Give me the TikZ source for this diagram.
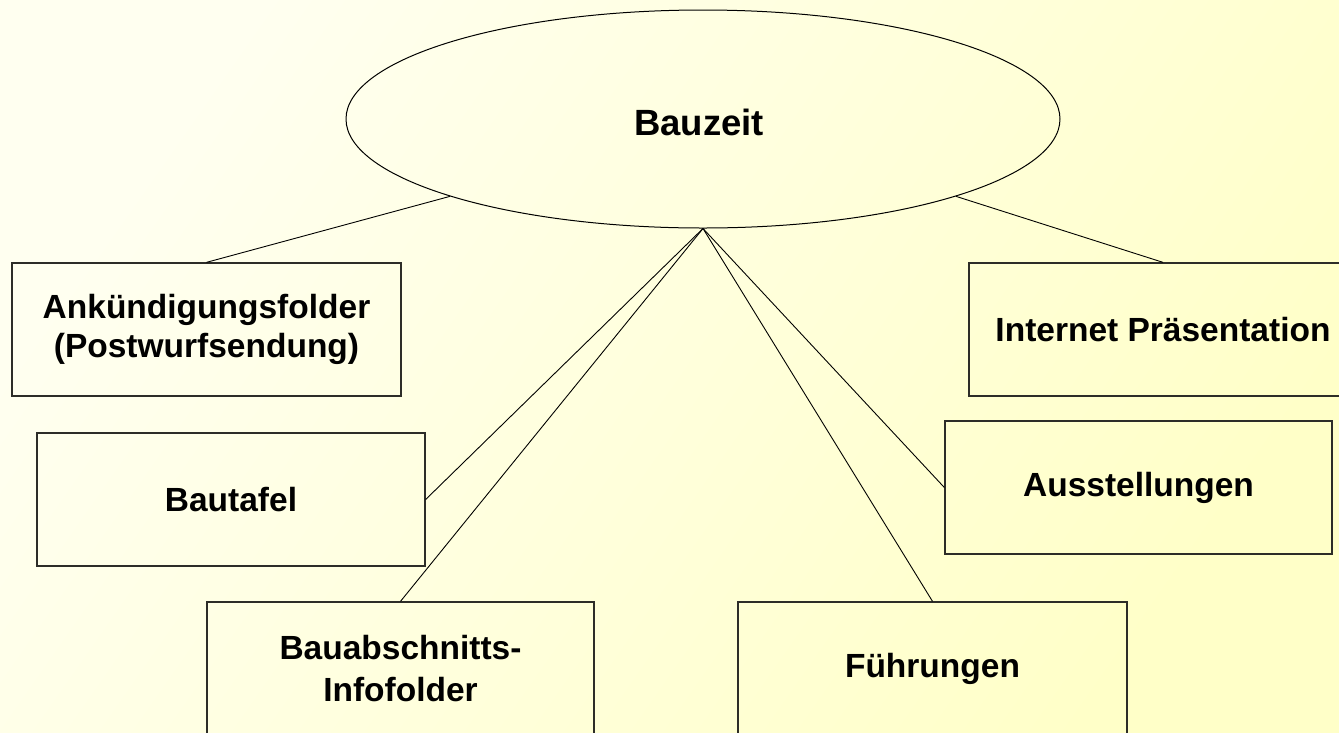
\documentclass[tikz,border=0pt]{standalone}
\usepackage{fontspec}
\setmainfont{Liberation Sans}
\usetikzlibrary{shapes.geometric}
\definecolor{bgA}{RGB}{255,255,240}
\definecolor{bgB}{RGB}{255,255,200}
\definecolor{boxline}{RGB}{45,45,40}
\tikzset{
  box/.style={draw=boxline, line width=1.3pt, rectangle, inner sep=0pt,
    minimum width=388pt, minimum height=133pt, align=center,
    font=\fontsize{33.5}{39}\selectfont\bfseries},
  hub/.style={draw=black, line width=1pt, ellipse, inner sep=0pt,
    minimum width=714pt, minimum height=218pt},
  hubtext/.style={inner sep=0pt, font=\fontsize{36.5}{40}\selectfont\bfseries},
  link/.style={draw=black, line width=0.9pt}
}
\begin{document}
\begin{tikzpicture}[x=1pt,y=-1pt]
\useasboundingbox (0,0) rectangle (1339,732);
\clip (0,0) rectangle (1339,732);
\shade[top color=bgA, bottom color=bgB, shading angle=55] (0,0) rectangle (1339,732);

\node[hub] (e) at (703,119) {};
\node[hubtext, anchor=base] (et) at (699,135) {Bauzeit};

\node[box, minimum width=389pt] (ank) at (206.5,329.5) {Ankündigungsfolder\\(Postwurfsendung)};
\node[box] (inet) at (1163,329.5) {Internet Präsentation};
\node[box] (taf) at (231,499.5) {Bautafel};
\node[box, minimum width=387pt] (aus) at (1138.5,487.5) {Ausstellungen};
\node[box, minimum width=387pt, font=\fontsize{33.5}{42}\selectfont\bfseries] (bau) at (400.5,668.5) {Bauabschnitts-\\Infofolder};
\node[box, minimum width=389pt] (fue) at (932.5,668.5) {Führungen};

\draw[link] (e.197) -- (ank.north);
\draw[link] (e.343) -- (inet.north);
\draw[link] (e.south) -- (taf.east);
\draw[link] (e.south) -- (bau.north);
\draw[link] (e.south) -- (fue.north);
\draw[link] (e.south) -- (aus.west);
\end{tikzpicture}
\end{document}
